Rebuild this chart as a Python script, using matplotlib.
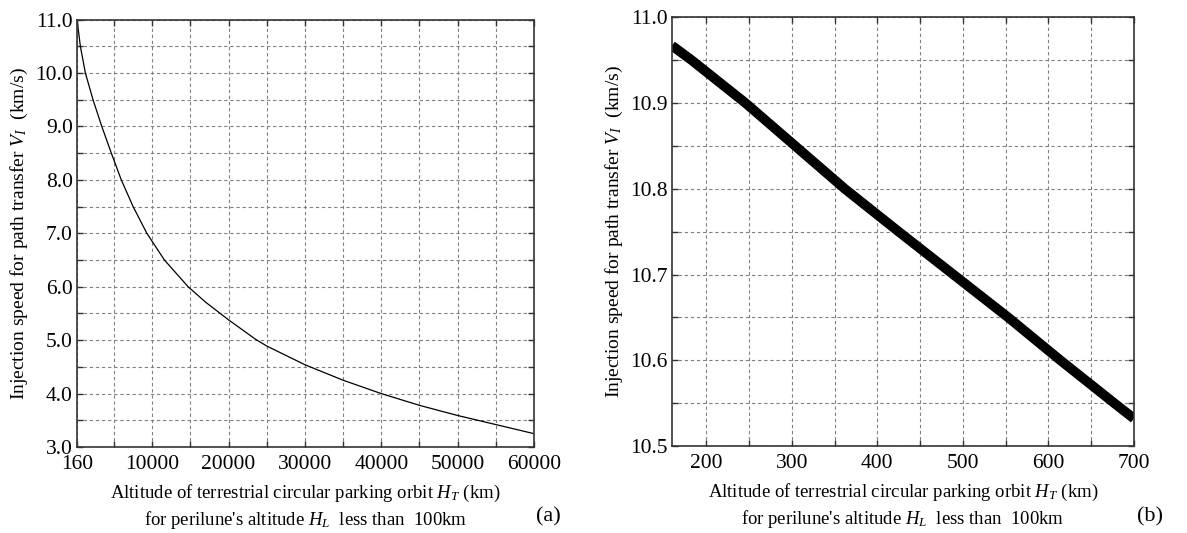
import matplotlib
matplotlib.use("Agg")
import matplotlib.pyplot as plt
from matplotlib.ticker import FixedLocator, NullFormatter

plt.rcParams['font.family'] = ['Liberation Serif', 'DejaVu Serif']
plt.rcParams['mathtext.fontset'] = 'custom'
plt.rcParams['mathtext.rm'] = 'Liberation Serif'
plt.rcParams['mathtext.it'] = 'Liberation Serif:italic'

# ---- data (a) ----
alt_a = [160, 595, 1250, 2250, 3400, 4650, 5950, 7500, 9300, 11600, 14700,
         17000, 20000, 23500, 25000, 30000, 35000, 40000, 45000,
         50000, 55000, 60000]
speed_a = [11.0, 10.5, 10.0, 9.5, 9.0, 8.5, 8.0, 7.5, 7.0, 6.5, 6.0,
           5.71, 5.38, 5.02, 4.89, 4.54, 4.25, 4.0, 3.78,
           3.59, 3.42, 3.25]

# ---- data (b) ----
alt_b = [160, 183, 246, 304, 362, 425, 489, 553, 614, 677, 700]
speed_b = [10.967, 10.950, 10.900, 10.850, 10.800, 10.750, 10.700, 10.650,
           10.600, 10.550, 10.532]

xticks_a = [160, 10000, 20000, 30000, 40000, 50000, 60000]
xminor_a = [5000, 15000, 25000, 35000, 45000, 55000]
yticks_a = [3.0, 4.0, 5.0, 6.0, 7.0, 8.0, 9.0, 10.0, 11.0]
yminor_a = [3.5, 4.5, 5.5, 6.5, 7.5, 8.5, 9.5, 10.5]

xticks_b = [200, 300, 400, 500, 600, 700]
xminor_b = [250, 350, 450, 550, 650]
yticks_b = [10.5, 10.6, 10.7, 10.8, 10.9, 11.0]
yminor_b = [10.55, 10.65, 10.75, 10.85, 10.95]

xlabel_txt = ("Altitude of terrestrial circular parking orbit $H_T$ (km)\n"
              "for perilune's altitude $H_L$  less than  100km")
ylabel_txt = "Injection speed for path transfer $V_I$  (km/s)"

fig = plt.figure(figsize=(11.87, 5.33), dpi=100)
ax1 = fig.add_axes([0.0649, 0.1613, 0.3850, 0.8021])
ax2 = fig.add_axes([0.5661, 0.1632, 0.3892, 0.8043])


def style(ax, xt, xm, yt, ym, xlim, ylim):
    ax.set_xlim(*xlim)
    ax.set_ylim(*ylim)
    ax.xaxis.set_major_locator(FixedLocator(xt))
    ax.xaxis.set_minor_locator(FixedLocator(xm))
    ax.yaxis.set_major_locator(FixedLocator(yt))
    ax.yaxis.set_minor_locator(FixedLocator(ym))
    ax.xaxis.set_minor_formatter(NullFormatter())
    ax.yaxis.set_minor_formatter(NullFormatter())
    ax.grid(True, which='both', color='#808080', linestyle=(0, (3, 2.5)),
            linewidth=0.8)
    ax.tick_params(which='both', direction='in', top=True, right=True,
                   length=4, width=1.0, color='#333333', labelsize=15.5)
    ax.tick_params(axis='x', pad=6)
    ax.tick_params(axis='y', pad=3)
    for s in ax.spines.values():
        s.set_color('#333333')
        s.set_linewidth(1.2)
    ax.set_axisbelow(True)


style(ax1, xticks_a, xminor_a, yticks_a, yminor_a, (160, 60000), (3.0, 11.0))
ax1.set_yticklabels([f"{v:.1f}" for v in yticks_a])
ax1.set_xticklabels([str(v) for v in xticks_a])
ax1.plot(alt_a, speed_a, color='black', linewidth=0.9)
ax1.set_xlabel(xlabel_txt, fontsize=13.5, linespacing=1.35, labelpad=6)
ax1.set_ylabel(ylabel_txt, fontsize=14, labelpad=4)

style(ax2, xticks_b, xminor_b, yticks_b, yminor_b, (160, 700), (10.5, 11.0))
ax2.set_yticklabels([f"{v:.1f}" for v in yticks_b])
ax2.set_xticklabels([str(v) for v in xticks_b])
ax2.plot(alt_b, speed_b, color='black', linewidth=7, solid_capstyle='butt')
ax2.set_xlabel(xlabel_txt, fontsize=13.5, linespacing=1.35, labelpad=6)
ax2.set_ylabel(ylabel_txt, fontsize=14, labelpad=4)

fig.text(548 / 1187, 1 - 517 / 533, "(a)", fontsize=16, ha='center', va='center')
fig.text(1150 / 1187, 1 - 517 / 533, "(b)", fontsize=16, ha='center', va='center')

fig.savefig("out.png", dpi=100)
